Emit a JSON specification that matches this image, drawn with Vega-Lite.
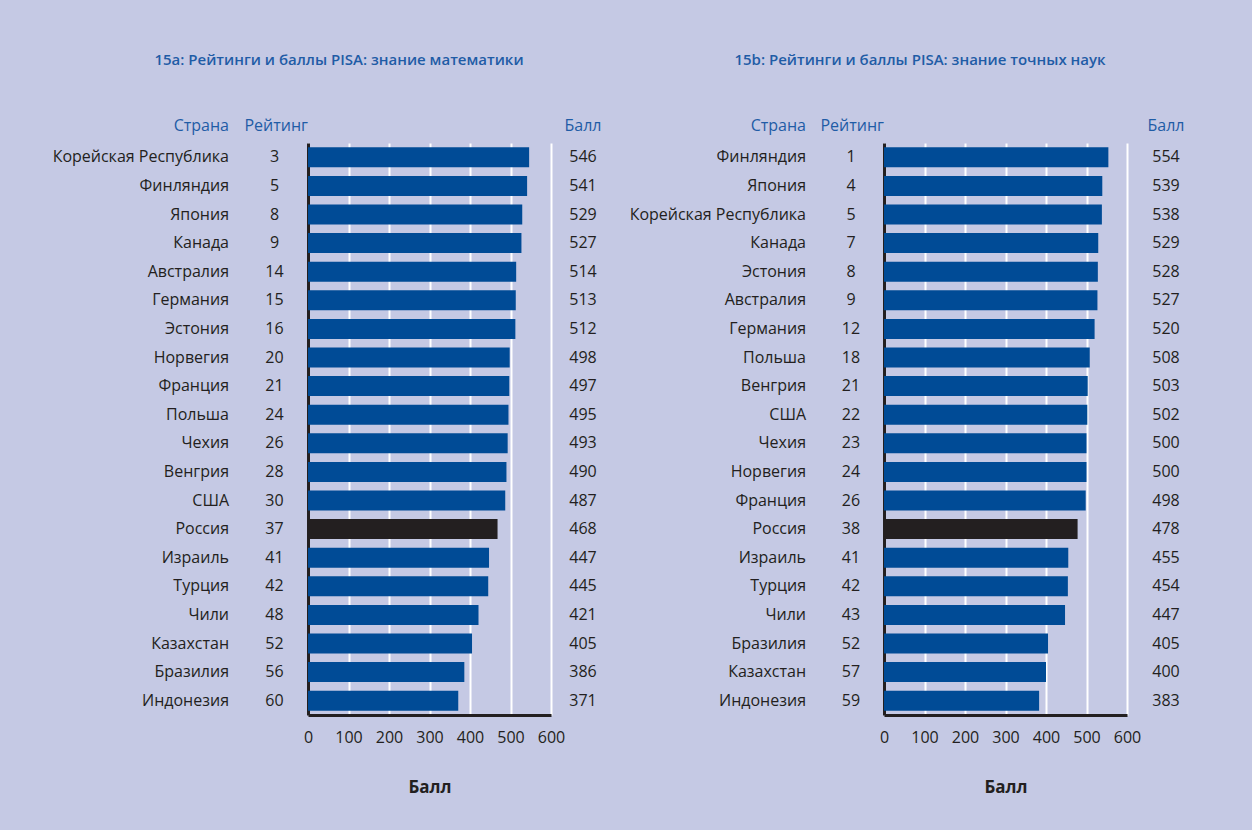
{
  "$schema": "https://vega.github.io/schema/vega-lite/v6.json",
  "background": "#c5c9e4",
  "padding": {"left": 29, "top": 53, "right": 47, "bottom": 35},
  "datasets": {
    "math": [
      {"country": "Корейская Республика", "rank": 3, "score": 546},
      {"country": "Финляндия", "rank": 5, "score": 541},
      {"country": "Япония", "rank": 8, "score": 529},
      {"country": "Канада", "rank": 9, "score": 527},
      {"country": "Австралия", "rank": 14, "score": 514},
      {"country": "Германия", "rank": 15, "score": 513},
      {"country": "Эстония", "rank": 16, "score": 512},
      {"country": "Норвегия", "rank": 20, "score": 498},
      {"country": "Франция", "rank": 21, "score": 497},
      {"country": "Польша", "rank": 24, "score": 495},
      {"country": "Чехия", "rank": 26, "score": 493},
      {"country": "Венгрия", "rank": 28, "score": 490},
      {"country": "США", "rank": 30, "score": 487},
      {"country": "Россия", "rank": 37, "score": 468},
      {"country": "Израиль", "rank": 41, "score": 447},
      {"country": "Турция", "rank": 42, "score": 445},
      {"country": "Чили", "rank": 48, "score": 421},
      {"country": "Казахстан", "rank": 52, "score": 405},
      {"country": "Бразилия", "rank": 56, "score": 386},
      {"country": "Индонезия", "rank": 60, "score": 371}
    ],
    "science": [
      {"country": "Финляндия", "rank": 1, "score": 554},
      {"country": "Япония", "rank": 4, "score": 539},
      {"country": "Корейская Республика", "rank": 5, "score": 538},
      {"country": "Канада", "rank": 7, "score": 529},
      {"country": "Эстония", "rank": 8, "score": 528},
      {"country": "Австралия", "rank": 9, "score": 527},
      {"country": "Германия", "rank": 12, "score": 520},
      {"country": "Польша", "rank": 18, "score": 508},
      {"country": "Венгрия", "rank": 21, "score": 503},
      {"country": "США", "rank": 22, "score": 502},
      {"country": "Чехия", "rank": 23, "score": 500},
      {"country": "Норвегия", "rank": 24, "score": 500},
      {"country": "Франция", "rank": 26, "score": 498},
      {"country": "Россия", "rank": 38, "score": 478},
      {"country": "Израиль", "rank": 41, "score": 455},
      {"country": "Турция", "rank": 42, "score": 454},
      {"country": "Чили", "rank": 43, "score": 447},
      {"country": "Бразилия", "rank": 52, "score": 405},
      {"country": "Казахстан", "rank": 57, "score": 400},
      {"country": "Индонезия", "rank": 59, "score": 383}
    ]
  },
  "spacing": 0,
  "hconcat": [
    {
      "title": {"text": "15a: Рейтинги и баллы PISA: знание математики", "anchor": "middle", "dx": 17, "offset": 50, "fontSize": 15, "fontWeight": 600, "color": "#1f5ca6"},
      "spacing": 0,
      "bounds": "flush",
      "hconcat": [
        {
          "data": {"name": "math"},
          "width": 200, "height": 572,
          "title": {"text": "Страна", "anchor": "end"},
          "mark": {"type": "text", "align": "right", "baseline": "middle", "fontSize": 16, "color": "#231f20"},
          "encoding": {
            "y": {"field": "country", "type": "nominal", "sort": null, "axis": null, "scale": {"paddingInner": 0.3, "paddingOuter": 0.15}},
            "x": {"datum": 1, "type": "quantitative", "scale": {"domain": [0, 1]}, "axis": null},
            "text": {"field": "country"}
          }
        },
        {
          "data": {"name": "math"},
          "width": 79, "height": 572,
          "title": {"text": "Рейтинг", "anchor": "end"},
          "mark": {"type": "text", "align": "center", "baseline": "middle", "fontSize": 16, "color": "#231f20", "dx": 6},
          "encoding": {
            "y": {"field": "country", "type": "nominal", "sort": null, "axis": null, "scale": {"paddingInner": 0.3, "paddingOuter": 0.15}},
            "text": {"field": "rank"}
          }
        },
        {
          "data": {"name": "math"},
          "width": 243, "height": 572,
          "mark": {"type": "bar"},
          "encoding": {
            "y": {"field": "country", "type": "nominal", "sort": null, "scale": {"paddingInner": 0.3, "paddingOuter": 0.15},
                  "axis": {"labels": false, "ticks": false, "title": null, "domain": true, "domainColor": "#231f20", "domainWidth": 3, "grid": false}},
            "x": {"field": "score", "type": "quantitative", "scale": {"domain": [0, 600]},
                  "axis": {"values": [0, 100, 200, 300, 400, 500, 600], "grid": true, "gridColor": "#ffffff", "gridWidth": 2, "ticks": false,
                           "domainColor": "#231f20", "domainWidth": 3, "labelFlush": false, "labelPadding": 14, "labelFontSize": 16,
                           "labelColor": "#231f20", "title": "Балл", "titleFontSize": 17, "titleFontWeight": "bold", "titleColor": "#231f20", "titlePadding": 34}},
            "color": {"condition": {"test": "datum.country === 'Россия'", "value": "#231f20"}, "value": "#004b96"}
          }
        },
        {
          "data": {"name": "math"},
          "width": 64, "height": 572,
          "title": {"text": "Балл", "anchor": "middle"},
          "mark": {"type": "text", "align": "center", "baseline": "middle", "fontSize": 16, "color": "#231f20"},
          "encoding": {
            "y": {"field": "country", "type": "nominal", "sort": null, "axis": null, "scale": {"paddingInner": 0.3, "paddingOuter": 0.15}},
            "text": {"field": "score"}
          }
        }
      ]
    },
    {
      "title": {"text": "15b: Рейтинги и баллы PISA: знание точных наук", "anchor": "middle", "dx": 10, "offset": 50, "fontSize": 15, "fontWeight": 600, "color": "#1f5ca6"},
      "spacing": 0,
      "bounds": "flush",
      "hconcat": [
        {
          "data": {"name": "science"},
          "width": 191, "height": 572,
          "title": {"text": "Страна", "anchor": "end"},
          "mark": {"type": "text", "align": "right", "baseline": "middle", "fontSize": 16, "color": "#231f20"},
          "encoding": {
            "y": {"field": "country", "type": "nominal", "sort": null, "axis": null, "scale": {"paddingInner": 0.3, "paddingOuter": 0.15}},
            "x": {"datum": 1, "type": "quantitative", "scale": {"domain": [0, 1]}, "axis": null},
            "text": {"field": "country"}
          }
        },
        {
          "data": {"name": "science"},
          "width": 78, "height": 572,
          "title": {"text": "Рейтинг", "anchor": "end"},
          "mark": {"type": "text", "align": "center", "baseline": "middle", "fontSize": 16, "color": "#231f20", "dx": 6},
          "encoding": {
            "y": {"field": "country", "type": "nominal", "sort": null, "axis": null, "scale": {"paddingInner": 0.3, "paddingOuter": 0.15}},
            "text": {"field": "rank"}
          }
        },
        {
          "data": {"name": "science"},
          "width": 243, "height": 572,
          "mark": {"type": "bar"},
          "encoding": {
            "y": {"field": "country", "type": "nominal", "sort": null, "scale": {"paddingInner": 0.3, "paddingOuter": 0.15},
                  "axis": {"labels": false, "ticks": false, "title": null, "domain": true, "domainColor": "#231f20", "domainWidth": 3, "grid": false}},
            "x": {"field": "score", "type": "quantitative", "scale": {"domain": [0, 600]},
                  "axis": {"values": [0, 100, 200, 300, 400, 500, 600], "grid": true, "gridColor": "#ffffff", "gridWidth": 2, "ticks": false,
                           "domainColor": "#231f20", "domainWidth": 3, "labelFlush": false, "labelPadding": 14, "labelFontSize": 16,
                           "labelColor": "#231f20", "title": "Балл", "titleFontSize": 17, "titleFontWeight": "bold", "titleColor": "#231f20", "titlePadding": 34}},
            "color": {"condition": {"test": "datum.country === 'Россия'", "value": "#231f20"}, "value": "#004b96"}
          }
        },
        {
          "data": {"name": "science"},
          "width": 78, "height": 572,
          "title": {"text": "Балл", "anchor": "middle"},
          "mark": {"type": "text", "align": "center", "baseline": "middle", "fontSize": 16, "color": "#231f20"},
          "encoding": {
            "y": {"field": "country", "type": "nominal", "sort": null, "axis": null, "scale": {"paddingInner": 0.3, "paddingOuter": 0.15}},
            "text": {"field": "score"}
          }
        }
      ]
    }
  ],
  "config": {
    "font": "Open Sans, sans-serif",
    "view": {"stroke": null},
    "title": {"fontSize": 16, "color": "#1f5ca6", "fontWeight": "normal", "offset": 9, "font": "Open Sans, sans-serif"},
    "axis": {"labelFont": "Open Sans, sans-serif", "titleFont": "Open Sans, sans-serif"},
    "text": {"font": "Open Sans, sans-serif"}
  }
}
